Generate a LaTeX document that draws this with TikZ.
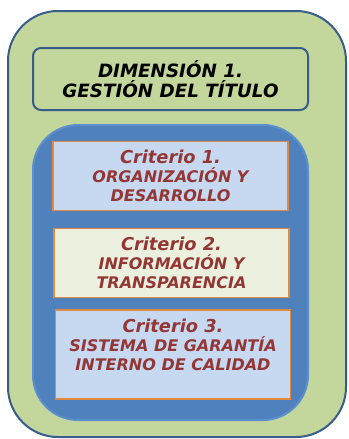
\documentclass[tikz,border=0pt]{standalone}
\usepackage{fontspec}
\setmainfont{DejaVu Sans}
\usepackage{xcolor}
\definecolor{outergreen}{HTML}{C3D69B}
\definecolor{darkblue}{HTML}{385D8A}
\definecolor{midblue}{HTML}{4F81BD}
\definecolor{lightblue}{HTML}{C6D9F1}
\definecolor{paleblue}{HTML}{5B8FD0}
\definecolor{palegreen}{HTML}{EBF1DE}
\definecolor{orangeline}{HTML}{E2883F}
\definecolor{darkred}{HTML}{943634}

\begin{document}
\begin{tikzpicture}[x=1pt,y=-1pt,
  criterio/.style={draw=orangeline, line width=1.2pt, minimum width=235pt,
    align=center, text=darkred, font=\bfseries\itshape\fontsize{16}{19}\selectfont}]
\useasboundingbox (0,0) rectangle (348,439);
% Outer green frame
\draw[fill=outergreen, draw=darkblue, line width=2pt, rounded corners=50pt] (8,11) rectangle (346,437);
% Title of the dimension
\node[draw=darkblue, line width=2pt, fill=outergreen, rounded corners=8pt,
  minimum width=275pt, minimum height=62pt, align=center,
  font=\bfseries\itshape\fontsize{18.3}{19.5}\selectfont] (dimension) at (170.5,79)
  {DIMENSIÓN 1.\\GESTIÓN DEL TÍTULO};
% Inner blue panel
\draw[fill=midblue, draw=paleblue, line width=2pt, rounded corners=45pt] (33,125) rectangle (308,420);
% Criteria
\node[criterio, fill=lightblue, minimum height=69pt] (crit1) at (170.5,176)
  {{\fontsize{17.8}{19}\selectfont Criterio 1.}\\ORGANIZACIÓN Y\\DESARROLLO};
\node[criterio, fill=palegreen, minimum height=69pt] (crit2) at (171.5,263)
  {{\fontsize{17.8}{19}\selectfont Criterio 2.}\\INFORMACIÓN Y\\TRANSPARENCIA};
\node[criterio, fill=lightblue, minimum height=89pt] (crit3) at (173,354.5)
  {{\fontsize{17.8}{19}\selectfont Criterio 3.}\\SISTEMA DE GARANTÍA\\INTERNO DE CALIDAD\\\mbox{}};
\end{tikzpicture}
\end{document}
